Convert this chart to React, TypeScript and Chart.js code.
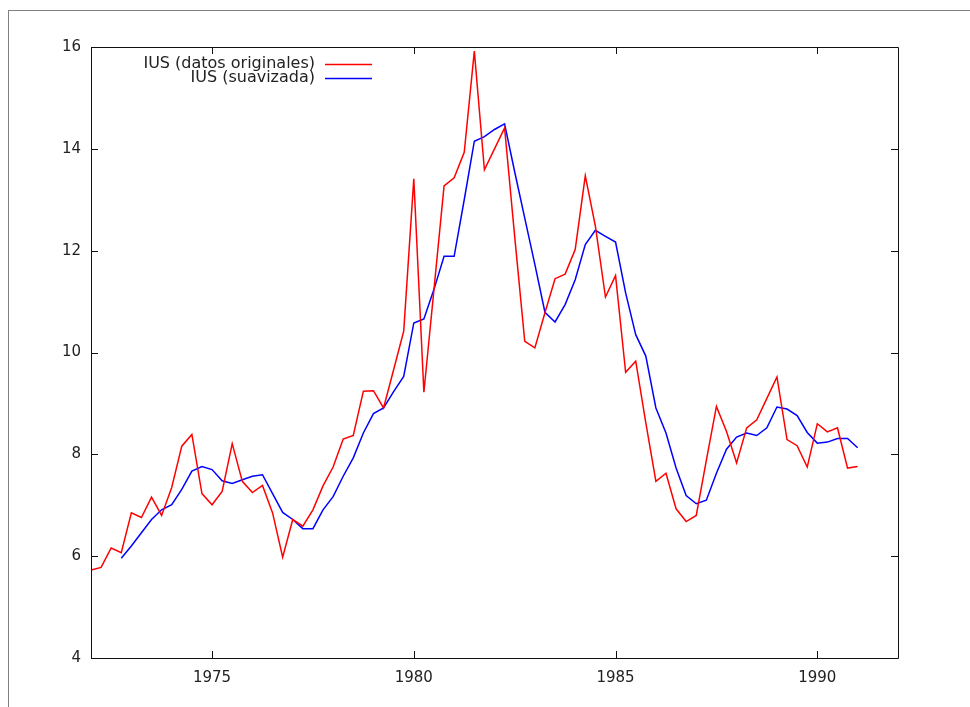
import React, { useEffect, useRef } from "react";
import { Chart, registerables } from "chart.js";

Chart.register(...registerables);

// Quarterly series, first quarter = 1972 Q1
const startYear = 1972;
const seriesLabels = ["IUS (datos originales)", "IUS (suavizada)"];
const xTicks = [1975, 1980, 1985, 1990];
const yTicks = [4, 6, 8, 10, 12, 14, 16];

const iusOriginal = [
  5.73, 5.78, 6.16, 6.07, 6.85, 6.76, 7.16, 6.8, 7.35, 8.16,
  8.39, 7.23, 7.01, 7.27, 8.21, 7.47, 7.25, 7.39, 6.85, 5.98,
  6.72, 6.59, 6.91, 7.38, 7.75, 8.3, 8.37, 9.24, 9.25, 8.91,
  9.66, 10.42, 13.41, 9.22, 11.24, 13.27, 13.43, 13.93, 15.92, 13.59,
  14.0, 14.41, 12.28, 10.22, 10.09, 10.78, 11.45, 11.54, 12.02, 13.47,
  12.48, 11.09, 11.51, 9.61, 9.83, 8.62, 7.47, 7.63, 6.93, 6.68,
  6.8, 7.88, 8.94, 8.45, 7.83, 8.52, 8.68, 9.1, 9.52, 8.29,
  8.17, 7.75, 8.6, 8.44, 8.52, 7.73, 7.76,
];

const iusSmoothed = [
  null, null, null, 5.96, 6.2, 6.46, 6.72, 6.91, 7.01, 7.31,
  7.67, 7.76, 7.7, 7.48, 7.43, 7.5, 7.57, 7.6, 7.23, 6.86,
  6.72, 6.54, 6.54, 6.91, 7.17, 7.57, 7.93, 8.42, 8.8, 8.91,
  9.23, 9.53, 10.58, 10.66, 11.24, 11.89, 11.89, 13.0, 14.15, 14.24,
  14.38, 14.49, 13.55, 12.64, 11.73, 10.79, 10.6, 10.94, 11.43, 12.12,
  12.4, 12.28, 12.17, 11.17, 10.35, 9.93, 8.91, 8.42, 7.73, 7.19,
  7.03, 7.1, 7.63, 8.1, 8.34, 8.42, 8.37, 8.52, 8.93, 8.89,
  8.76, 8.43, 8.22, 8.24, 8.31, 8.31, 8.13,
];

const FONT = "'DejaVu Sans', Verdana, sans-serif";

const toPoints = (arr: (number | null)[]) =>
  arr
    .map((v, i) => (v == null ? null : { x: startYear + i / 4, y: v }))
    .filter((p) => p !== null) as { x: number; y: number }[];

const framePlugin = {
  id: "gnuplotFrame",
  afterDraw(chart: any) {
    const { ctx, chartArea } = chart;
    const { left, right, top, bottom } = chartArea;
    const xs = chart.scales.x;
    const ys = chart.scales.y;
    const tl = 7;
    ctx.save();
    ctx.strokeStyle = "#111";
    ctx.lineWidth = 1;
    ctx.beginPath();
    ctx.rect(Math.round(left) + 0.5, Math.round(top) + 0.5, Math.round(right - left), Math.round(bottom - top));
    ctx.stroke();
    ctx.beginPath();
    xTicks.forEach((v) => {
      const px = Math.round(xs.getPixelForValue(v)) + 0.5;
      ctx.moveTo(px, bottom);
      ctx.lineTo(px, bottom - tl);
      ctx.moveTo(px, top);
      ctx.lineTo(px, top + tl);
    });
    yTicks.forEach((v) => {
      const py = Math.round(ys.getPixelForValue(v)) + 0.5;
      ctx.moveTo(left, py);
      ctx.lineTo(left + tl, py);
      ctx.moveTo(right, py);
      ctx.lineTo(right - tl, py);
    });
    ctx.stroke();

    // gnuplot-style key
    const textRight = left + 224;
    const lineStart = left + 234;
    const lineEnd = left + 281;
    ctx.font = "16px " + FONT;
    ctx.textAlign = "right";
    ctx.textBaseline = "middle";
    chart.data.datasets.forEach((ds: any, i: number) => {
      const y = top + 17 + i * 14;
      ctx.fillStyle = "#222";
      ctx.fillText(ds.label, textRight, y);
      ctx.strokeStyle = ds.borderColor;
      ctx.lineWidth = 1.5;
      ctx.beginPath();
      ctx.moveTo(lineStart, Math.round(y) + 0.5);
      ctx.lineTo(lineEnd, Math.round(y) + 0.5);
      ctx.stroke();
    });
    ctx.restore();
  },
};

export default function App() {
  const canvasRef = useRef<HTMLCanvasElement | null>(null);

  useEffect(() => {
    if (!canvasRef.current) return;
    const chart = new Chart(canvasRef.current, {
      type: "line",
      data: {
        datasets: [
          {
            label: seriesLabels[0],
            data: toPoints(iusOriginal),
            borderColor: "#ff0000",
            borderWidth: 1.5,
            pointRadius: 0,
            tension: 0,
            fill: false,
          },
          {
            label: seriesLabels[1],
            data: toPoints(iusSmoothed),
            borderColor: "#0000ff",
            borderWidth: 1.5,
            pointRadius: 0,
            tension: 0,
            fill: false,
          },
        ],
      },
      options: {
        animation: false,
        responsive: true,
        maintainAspectRatio: false,
        layout: { padding: { top: 47, right: 72, left: 0, bottom: 0 } },
        plugins: { legend: { display: false }, tooltip: { enabled: false } },
        scales: {
          x: {
            type: "linear",
            min: 1972,
            max: 1992,
            grid: { display: false, drawTicks: false },
            border: { display: false },
            afterBuildTicks: (s: any) => {
              s.ticks = xTicks.map((v) => ({ value: v }));
            },
            afterFit: (s: any) => {
              s.height = 49;
            },
            ticks: {
              autoSkip: false,
              maxRotation: 0,
              padding: 11,
              color: "#222",
              font: { family: FONT, size: 15 },
              callback: (v: any) => String(v),
            },
          },
          y: {
            type: "linear",
            min: 4,
            max: 16,
            grid: { display: false, drawTicks: false },
            border: { display: false },
            afterBuildTicks: (s: any) => {
              s.ticks = yTicks.map((v) => ({ value: v }));
            },
            afterFit: (s: any) => {
              s.width = 91;
            },
            ticks: {
              autoSkip: false,
              padding: 10,
              color: "#222",
              font: { family: FONT, size: 15 },
              callback: (v: any) => String(v),
            },
          },
        },
      },
      plugins: [framePlugin],
    });
    return () => chart.destroy();
  }, []);

  return (
    <div style={{ position: "fixed", left: 0, top: 0, width: 970, height: 707, background: "#fff" }}>
      <div
        style={{
          position: "absolute",
          left: 8,
          top: 10,
          width: 970,
          height: 707,
          borderLeft: "1px solid #808080",
          borderTop: "1px solid #808080",
        }}
      />
      <canvas ref={canvasRef} style={{ position: "absolute", left: 0, top: 0 }} />
    </div>
  );
}
